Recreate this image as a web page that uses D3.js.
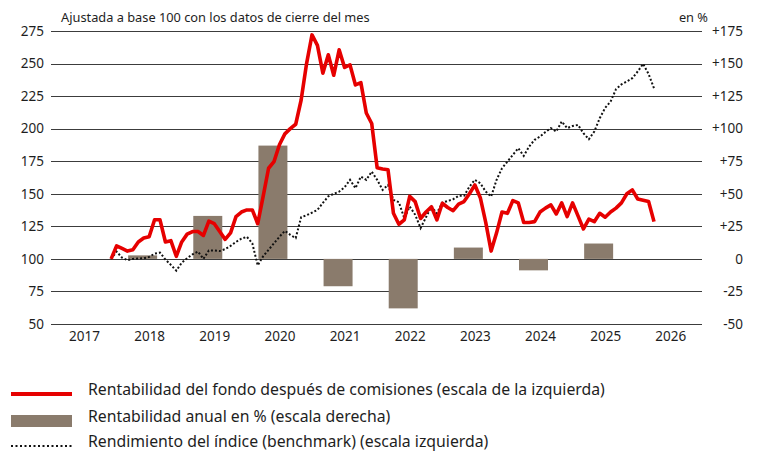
<!DOCTYPE html>
<html>
<head>
<meta charset="utf-8">
<script src="https://cdn.jsdelivr.net/npm/d3@7"></script>
<style>
  body { margin: 0; background: #fff; }
  text { font-family: "Noto Sans", "Open Sans", sans-serif; fill: #1e1e1e; }
</style>
</head>
<body>
<div id="chart"></div>
<script>
// --- data ---
var barYears = [2018, 2019, 2020, 2021, 2022, 2023, 2024, 2025];
var annualReturns = [2.7, 33, 87, -21, -38, 8.7, -8.8, 11.8];

// monthly series, first point June 2017
var startYear = 2017, startMonth = 6;
var fundValues = [100,110,108,106,107,113,116,117,130,130,
  113,114,102,113,119,121,121,118,129,127,
  121,115,120,132.5,136,137.6,137.6,127,148,169.6,
  174.7,187.6,196,200,203.4,222,250,272,264,242.6,
  256.7,241,260.5,247,249,233.6,235.4,212,204,170,
  169,168.4,135,126.6,130,148,144,131,136,140,
  130,142.7,139.5,137,142,144,150,156.8,147,128,
  106,120,136,135,144.8,143,128,128,128.6,136,
  139,141.5,134.5,143,132.5,143,133,123,130.5,128.6,
  135,132,136,139,143,150,153,146,145,144,
  128.6];
var benchmarkValues = [100,105.6,101,99,100,100.3,100.5,101.5,104,104.8,
  99.5,95.4,91,97,100.5,103.5,105.6,100,106.5,106.5,
  106,107.5,110,113,115.5,117,112,95,102,107,
  112,117,121.5,118.5,116,132,133.5,135.5,137.6,143,
  148,150,151.7,155,160.7,154.3,163.2,160.7,167,160.7,
  153,156.8,145.3,143.5,131.2,140.2,134,123.6,132,140.2,
  135,143.2,144.5,145.8,148.4,148.4,155.5,160.7,158.1,151.7,
  147.9,160.7,169.6,174.7,179.9,185,179.1,186.3,191.4,193.9,
  197.5,200.4,197.8,205.5,200.4,202,202.9,196.5,191.9,197.8,
  208,216,220.8,230.3,234,236.2,238.8,243.9,249.8,242,
  231];

var leftTicks = [50, 75, 100, 125, 150, 175, 200, 225, 250, 275];
var rightTicks = [-50, -25, 0, 25, 50, 75, 100, 125, 150, 175];
var xTicks = [2017, 2018, 2019, 2020, 2021, 2022, 2023, 2024, 2025, 2026];

var titleText = 'Ajustada a base 100 con los datos de cierre del mes';
var unitText = 'en %';
var legendLabels = [
  'Rentabilidad del fondo después de comisiones (escala de la izquierda)',
  'Rentabilidad anual en % (escala derecha)',
  'Rendimiento del índice (benchmark) (escala izquierda)'
];

var red = '#e60000', barColor = '#8a7b6c', gridColor = '#3c3c3c';

var w = 757, h = 454;
var plotLeft = 51, plotRight = 702;

var x = d3.scaleLinear().domain([2017, 2026]).range([84, 670.3]);
var yL = d3.scaleLinear().domain([50, 275]).range([324, 31]);
var yR = d3.scaleLinear().domain([-50, 175]).range([324, 31]);

function monthTime(i) {
  return startYear + (startMonth - 1 + i) / 12;
}

var svg = d3.select('#chart').append('svg')
  .attr('width', w)
  .attr('height', h);

// gridlines
svg.append('g').selectAll('line')
  .data(leftTicks)
  .enter()
  .append('line')
  .attr('x1', plotLeft)
  .attr('x2', plotRight)
  .attr('y1', function(d){ return Math.round(yL(d)) + 0.5; })
  .attr('y2', function(d){ return Math.round(yL(d)) + 0.5; })
  .attr('stroke', gridColor)
  .attr('stroke-width', 1.2);

// left axis labels
var leftAxis = d3.axisLeft(yL).tickValues(leftTicks).tickSize(0).tickPadding(0);
svg.append('g')
  .attr('transform', 'translate(44,0)')
  .call(leftAxis)
  .call(function(g){ g.select('.domain').remove(); })
  .selectAll('text')
  .style('font-size', '13.5px')
  .attr('fill', '#1e1e1e');

// right axis labels
var rightAxis = d3.axisRight(yR).tickValues(rightTicks).tickSize(0).tickPadding(0)
  .tickFormat(function(d){ return d > 0 ? '+' + d : String(d); });
svg.append('g')
  .attr('transform', 'translate(743,0)')
  .call(rightAxis)
  .call(function(g){ g.select('.domain').remove(); })
  .selectAll('text')
  .attr('text-anchor', 'end')
  .style('font-size', '13.5px')
  .attr('fill', '#1e1e1e');

// x axis labels
var xAxis = d3.axisBottom(x).tickValues(xTicks).tickSize(0).tickPadding(0)
  .tickFormat(d3.format('d'));
svg.append('g')
  .attr('transform', 'translate(0,331)')
  .call(xAxis)
  .call(function(g){ g.select('.domain').remove(); })
  .selectAll('text')
  .style('font-size', '13.5px')
  .attr('fill', '#1e1e1e');

// annual bars (right scale)
var barW = x(2017.445) - x(2017);
svg.append('g').selectAll('rect')
  .data(barYears)
  .enter()
  .append('rect')
  .attr('x', function(d){ return x(d - 0.1) - barW / 2; })
  .attr('width', barW)
  .attr('y', function(d, i){ return yR(Math.max(0, annualReturns[i])); })
  .attr('height', function(d, i){ return Math.abs(yR(annualReturns[i]) - yR(0)); })
  .attr('fill', barColor);

// benchmark (dotted)
var line = d3.line()
  .x(function(d, i){ return x(monthTime(i)); })
  .y(function(d){ return yL(d); });
svg.append('path')
  .datum(benchmarkValues)
  .attr('d', line)
  .attr('fill', 'none')
  .attr('stroke', '#111')
  .attr('stroke-width', 2)
  .attr('stroke-dasharray', '2,2');

// fund (red)
svg.append('path')
  .datum(fundValues)
  .attr('d', line)
  .attr('fill', 'none')
  .attr('stroke', red)
  .attr('stroke-width', 3.6)
  .attr('stroke-linejoin', 'round');

// titles
svg.append('text')
  .attr('x', 61).attr('y', 22)
  .style('font-size', '12.8px')
  .text(titleText);
svg.append('text')
  .attr('x', 708).attr('y', 22)
  .attr('text-anchor', 'end')
  .style('font-size', '12.8px')
  .text(unitText);

// legend
var legendY = [389, 416, 441];
var legend = svg.selectAll('.legend')
  .data(legendLabels)
  .enter()
  .append('g')
  .attr('class', 'legend')
  .attr('transform', function(d, i){ return 'translate(0,' + legendY[i] + ')'; });

legend.each(function(d, i){
  var g = d3.select(this);
  if (i === 0) {
    g.append('line').attr('x1', 11).attr('x2', 72).attr('y1', 5).attr('y2', 5)
      .attr('stroke', red).attr('stroke-width', 4);
  } else if (i === 1) {
    g.append('rect').attr('x', 11).attr('y', -1).attr('width', 61).attr('height', 12)
      .attr('fill', barColor);
  } else {
    g.append('line').attr('x1', 11).attr('x2', 72).attr('y1', 5).attr('y2', 5)
      .attr('stroke', '#111').attr('stroke-width', 2.2).attr('stroke-dasharray', '2,2.5');
  }
});

legend.append('text')
  .attr('x', 88)
  .attr('y', 0)
  .attr('dy', '0.35em')
  .style('font-size', '15.8px')
  .text(function(d){ return d; });
</script>
</body>
</html>
